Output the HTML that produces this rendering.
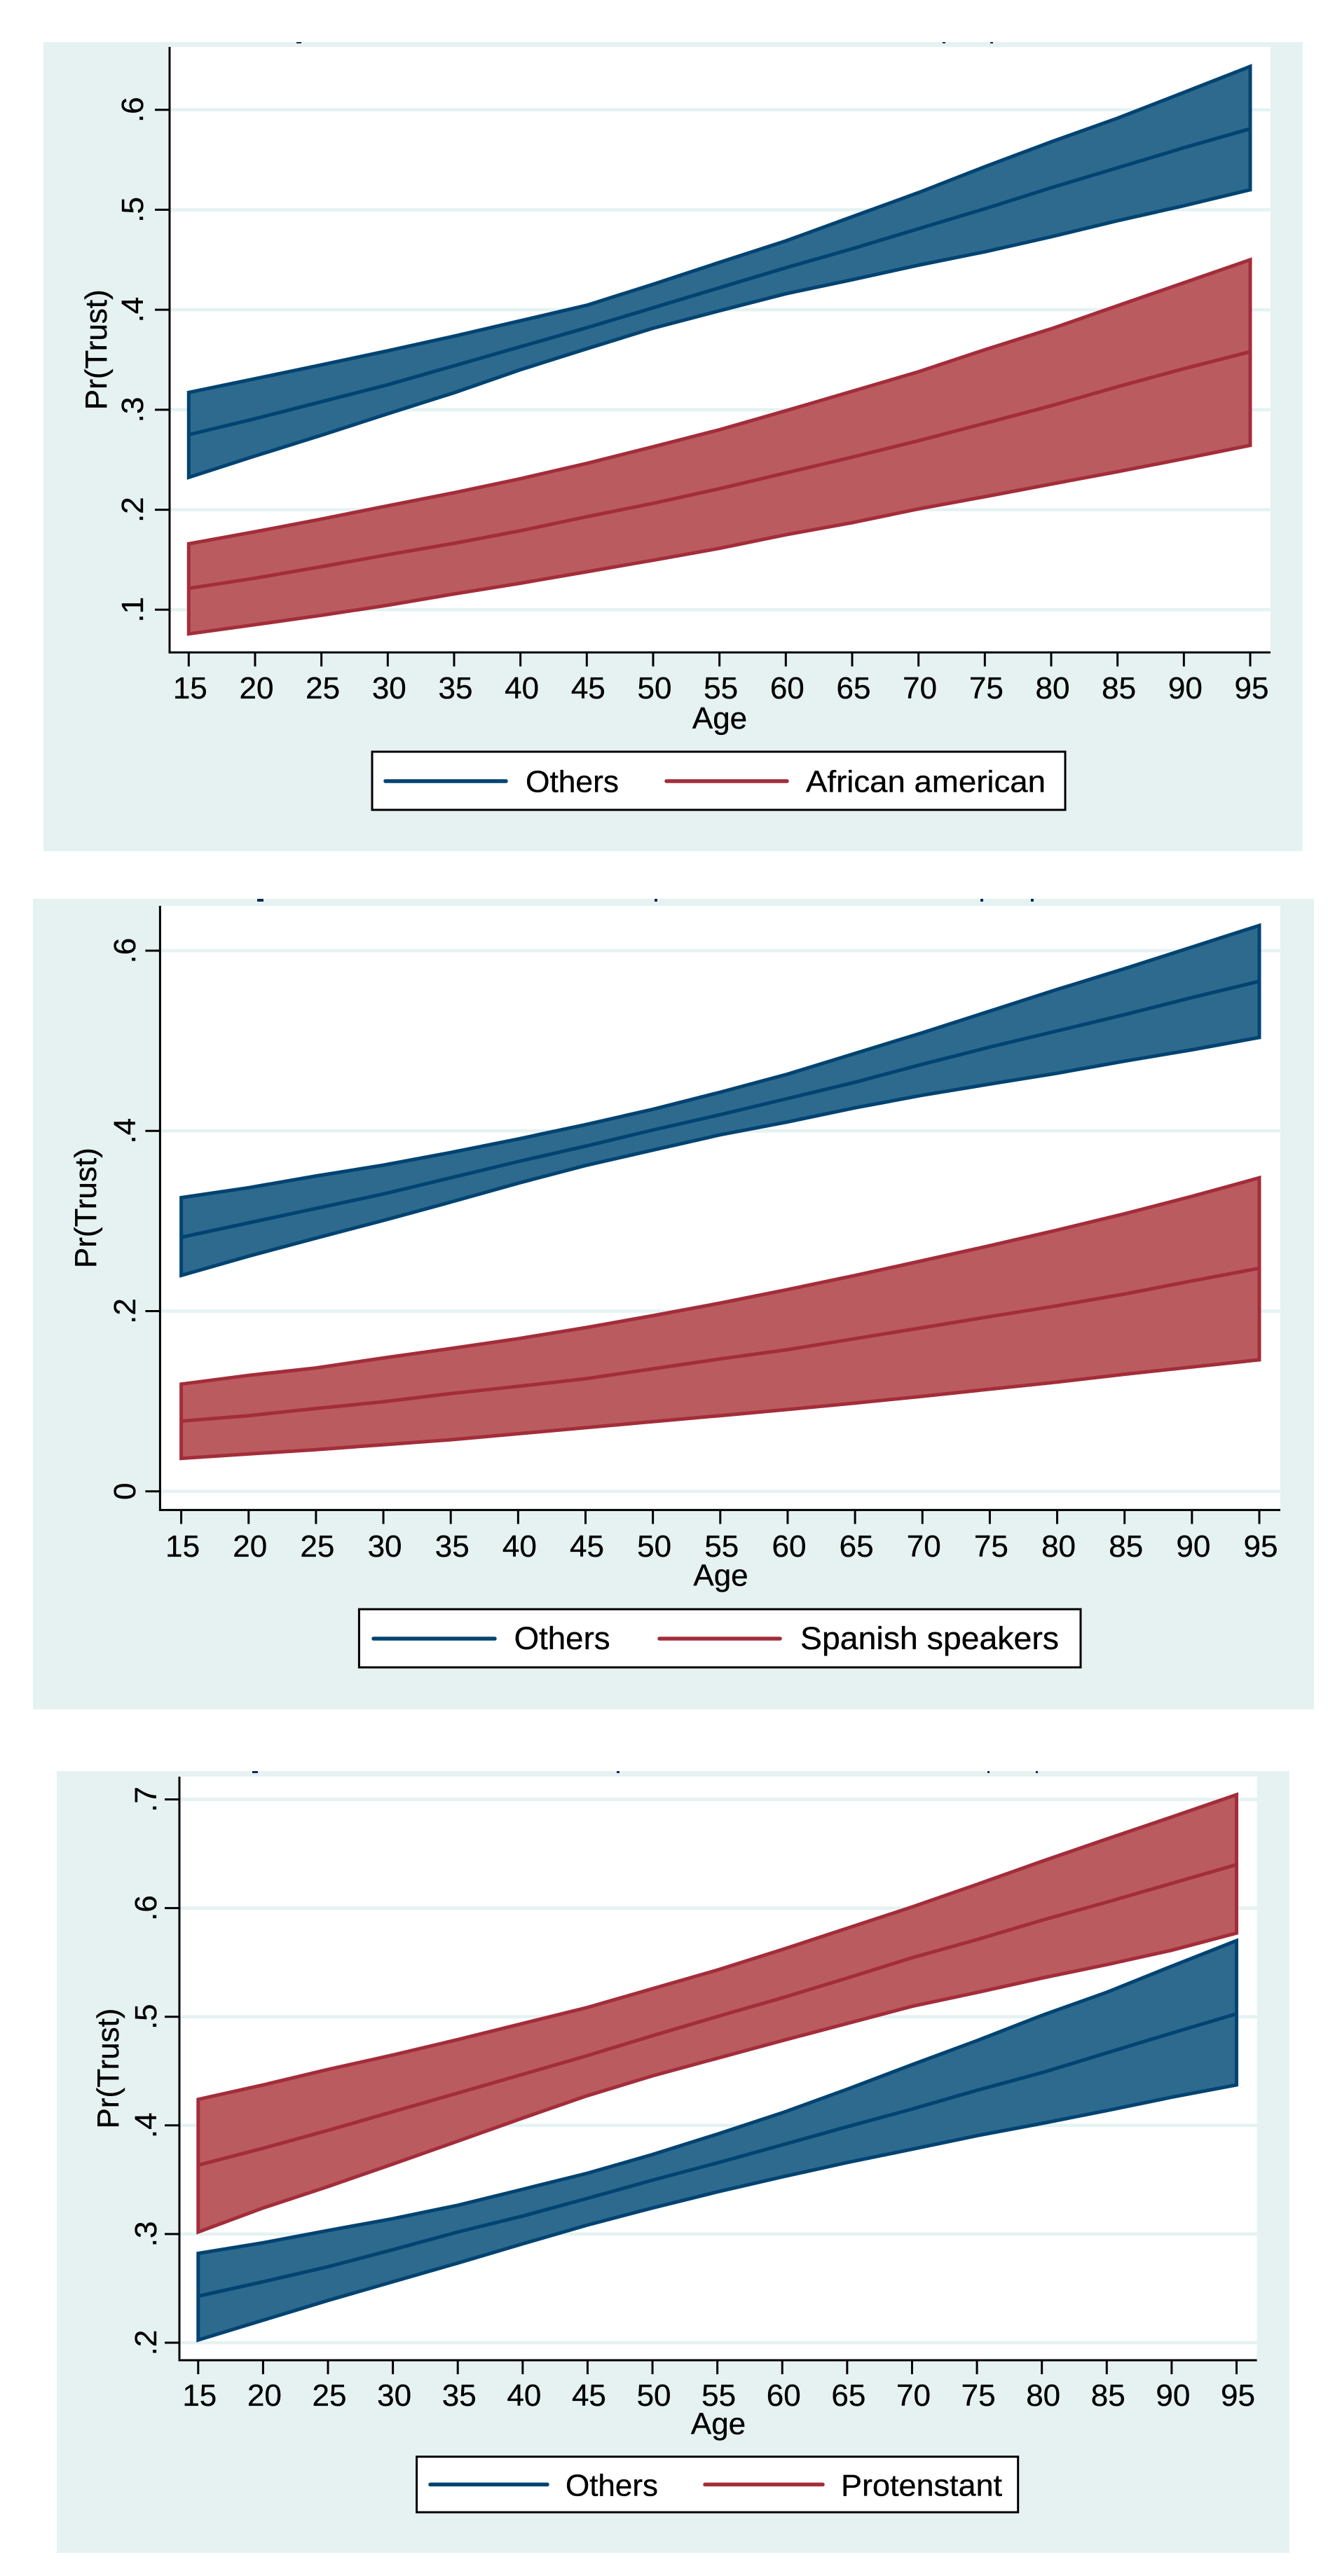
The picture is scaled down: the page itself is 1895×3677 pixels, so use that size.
<!DOCTYPE html>
<html lang="en">
<head>
<meta charset="utf-8">
<title>Pr(Trust) by Age</title>
<style>
html,body{margin:0;padding:0;background:#fff;}
svg{display:block;}
text{font-family:"Liberation Sans",Arial,sans-serif;fill:#000;stroke:#000;stroke-width:0.35px;}
</style>
</head>
<body>
<svg id="figure" xmlns="http://www.w3.org/2000/svg" width="1895" height="3677" viewBox="0 0 1895 3677"></svg>
<script>
// ---------- shared categories ----------
const ages = [15,20,25,30,35,40,45,50,55,60,65,70,75,80,85,90,95];

// ---------- panel 1 values ----------
const p1YTicks = [0.1,0.2,0.3,0.4,0.5,0.6];
const p1BaseUpper = [.3173,.331,.3449,.3590,.3736,.389,.4045,.4255,.4474,.4688,.4930,.5172,.5431,.5679,.5916,.6174,.6434];
const p1BaseMean  = [.275,.291,.308,.325,.344,.363,.382,.402,.422,.442,.461,.481,.501,.522,.542,.562,.581];
const p1BaseLower = [.2323,.2537,.2745,.296,.317,.340,.361,.3815,.399,.416,.430,.4446,.458,.473,.489,.504,.520];
const p1GroupUpper = [.1659,.178,.1907,.204,.217,.231,.2464,.263,.280,.299,.3185,.338,.360,.381,.404,.427,.450];
const p1GroupMean  = [.1214,.1315,.143,.155,.1664,.179,.193,.2064,.221,.2368,.2526,.269,.2864,.304,.323,.341,.358];
const p1GroupLower = [.0758,.085,.0944,.1045,.1158,.1265,.138,.1495,.1614,.175,.187,.2008,.213,.2256,.238,.251,.2644];

// ---------- panel 2 values ----------
const p2YTicks = [0,0.2,0.4,0.6];
const p2BaseUpper = [.326,.337,.350,.362,.376,.391,.407,.424,.443,.463,.486,.509,.533,.557,.580,.604,.628];
const p2BaseMean  = [.282,.298,.314,.330,.348,.366,.383,.401,.418,.436,.454,.474,.493,.511,.529,.548,.566];
const p2BaseLower = [.2396,.261,.281,.3006,.321,.342,.3616,.3787,.3957,.410,.4256,.4396,.452,.464,.4774,.490,.5037];
const p2GroupUpper = [.119,.1287,.137,.148,.1585,.1695,.1817,.195,.209,.224,.2396,.256,.2726,.290,.308,.3274,.348];
const p2GroupMean  = [.078,.084,.092,.0994,.1085,.1165,.125,.136,.147,.1573,.1695,.1817,.194,.206,.219,.2335,.2476];
const p2GroupLower = [.0366,.0415,.0463,.0518,.0573,.064,.0707,.0774,.084,.0909,.098,.1055,.1134,.1213,.130,.138,.146];

// ---------- panel 3 values ----------
const p3YTicks = [0.2,0.3,0.4,0.5,0.6,0.7];
const p3BaseUpper = [.2822,.292,.3033,.3142,.3265,.3412,.356,.3732,.392,.4116,.4333,.4559,.478,.5012,.5225,.5465,.57];
const p3BaseMean  = [.2428,.2561,.2699,.2856,.3019,.3166,.3329,.3496,.3655,.3821,.3988,.415,.4323,.4485,.4667,.4849,.5027];
const p3BaseLower = [.2025,.2207,.2389,.2561,.2733,.291,.3083,.324,.3388,.3526,.3658,.3781,.3905,.4018,.4136,.4259,.4372];
const p3GroupUpper = [.4239,.4372,.4515,.4648,.479,.4938,.5086,.5258,.543,.5618,.5814,.601,.6218,.643,.6636,.6838,.7044];
const p3GroupMean  = [.3634,.379,.3954,.4126,.4298,.447,.4643,.4825,.5002,.5174,.5356,.5543,.571,.5888,.6055,.6227,.64];
const p3GroupLower = [.3019,.324,.3437,.3644,.3855,.4067,.4274,.4456,.4618,.478,.4938,.5096,.5223,.5356,.548,.5612,.577];

// ---------- legend labels ----------
const baseLabel = "Others";
const p1GroupLabel = "African american";
const p2GroupLabel = "Spanish speakers";
const p3GroupLabel = "Protenstant";

// ---------- styling ----------
const PANEL_BG = "#e6f2f2";
const NAVY_LINE = "#004371";
const NAVY_FILL = "#2d6a8e";
const RED_LINE = "#a32d3a";
const RED_FILL = "#ba5b60";
const SPECK = "#0f2a55";
const NS = "http://www.w3.org/2000/svg";
const root = document.getElementById("figure");

function make(parent, tag, attrs, txt){
  const el = document.createElementNS(NS, tag);
  for (const k in attrs) el.setAttribute(k, attrs[k]);
  if (txt !== undefined) el.textContent = txt;
  parent.appendChild(el);
  return el;
}
function linear(d0, r0, d1, r1){
  return v => r0 + (v - d0) * (r1 - r0) / (d1 - d0);
}
function fmtTick(v){
  return v === 0 ? "0" : String(v).replace(/^0/, "");
}
function pointList(xs, ys, sx, sy){
  return xs.map((x, i) => sx(x).toFixed(1) + "," + sy(ys[i]).toFixed(1));
}

function drawBand(g, prefix, upper, mean, lower, sx, sy, fill, line){
  const outline = pointList(ages, upper, sx, sy).concat(pointList(ages, lower, sx, sy).reverse());
  const band = make(g, "polygon", {points: outline.join(" "), fill: fill, stroke: line, "stroke-width": 5, "stroke-linejoin": "miter"});
  
  
  const ml = make(g, "polyline", {points: pointList(ages, mean, sx, sy).join(" "), fill: "none", stroke: line, "stroke-width": 5});
  
  
}

function drawPanel(id, L, yTicks, yPair, series, groupLabel, drawGroupFirst){
  const g = make(root, "g", {});
  
  

  const bg = make(g, "rect", {x: L.bg[0], y: L.bg[1], width: L.bg[2]-L.bg[0], height: L.bg[3]-L.bg[1], fill: PANEL_BG});
  
  

  L.specks.forEach(s => {
    const sp = make(g, "rect", {x: s[0], y: L.bg[1], width: s[1], height: L.speckH, fill: SPECK});
    
    
  });

  const plot = make(g, "rect", {x: L.left, y: L.top, width: L.right-L.left, height: L.bottom-L.top, fill: "#fff"});
  
  

  const sx = linear(15, L.x15, 95, L.x95);
  const sy = linear(yPair[0], L.yp0, yPair[1], L.yp1);

  yTicks.forEach(v => {
    const y = sy(v);
    const grid = make(g, "line", {x1: L.left, x2: L.right, y1: y, y2: y, stroke: PANEL_BG, "stroke-width": 4.7});
    
    
    const tick = make(g, "line", {x1: L.left-21, x2: L.left, y1: y, y2: y, stroke: "#000", "stroke-width": 3});
    
    
    const lab = make(g, "text", {x: 0, y: 0, "font-size": L.font, "text-anchor": "middle", transform: "translate(" + L.yLabelX + "," + y.toFixed(1) + ") rotate(-90)"}, fmtTick(v));
    
    
  });

  if (drawGroupFirst) {
    drawBand(g, id + '-group', series.gu, series.gm, series.gl, sx, sy, RED_FILL, RED_LINE);
    drawBand(g, id + '-others', series.bu, series.bm, series.bl, sx, sy, NAVY_FILL, NAVY_LINE);
  } else {
    drawBand(g, id + '-others', series.bu, series.bm, series.bl, sx, sy, NAVY_FILL, NAVY_LINE);
    drawBand(g, id + '-group', series.gu, series.gm, series.gl, sx, sy, RED_FILL, RED_LINE);
  }

  const yAxis = make(g, "line", {x1: L.left, x2: L.left, y1: L.top, y2: L.bottom+1.5, stroke: "#000", "stroke-width": 3});
  
  
  const xAxis = make(g, "line", {x1: L.left, x2: L.right, y1: L.bottom, y2: L.bottom, stroke: "#000", "stroke-width": 3});
  
  

  ages.forEach(a => {
    const x = sx(a);
    const tick = make(g, "line", {x1: x, x2: x, y1: L.bottom, y2: L.bottom+20, stroke: "#000", "stroke-width": 3});
    
    
    const lab = make(g, "text", {x: x+2, y: L.xLabelY, "font-size": L.font, "text-anchor": "middle"}, String(a));
    
    
  });

  const xTitle = make(g, "text", {x: L.ageX, y: L.ageY, "font-size": L.font, "text-anchor": "middle"}, "Age");
  
  

  const yTitle = make(g, "text", {x: 0, y: 0, "font-size": L.font, "text-anchor": "middle", transform: "translate(" + L.yTitleX + "," + ((L.top+L.bottom)/2) + ") rotate(-90)"}, "Pr(Trust)");
  
  

  const lg = make(g, "g", {});
  
  
  const box = make(lg, "rect", {x: L.lg.box[0], y: L.lg.box[1], width: L.lg.box[2]-L.lg.box[0], height: L.lg.box[3]-L.lg.box[1], fill: "#fff", stroke: "#000", "stroke-width": 3});
  
  
  const k1 = make(lg, "line", {x1: L.lg.k1[0], x2: L.lg.k1[1], y1: L.lg.keyY, y2: L.lg.keyY, stroke: NAVY_LINE, "stroke-width": 5.5, "stroke-linecap": "round"});
  
  
  const t1 = make(lg, "text", {x: L.lg.t1[0], y: L.lg.textY, "font-size": L.lgFont, textLength: L.lg.t1[1], lengthAdjust: "spacingAndGlyphs"}, baseLabel);
  
  
  const k2 = make(lg, "line", {x1: L.lg.k2[0], x2: L.lg.k2[1], y1: L.lg.keyY, y2: L.lg.keyY, stroke: RED_LINE, "stroke-width": 5.5, "stroke-linecap": "round"});
  
  
  const t2 = make(lg, "text", {x: L.lg.t2[0], y: L.lg.textY, "font-size": L.lgFont, textLength: L.lg.t2[1], lengthAdjust: "spacingAndGlyphs"}, groupLabel);
  
  
}

drawPanel("panel-african-american", {
  bg:[62,60,1859,1215], left:242, right:1813, top:67, bottom:931.3,
  x15:269.3, x95:1784, yp0:870.3, yp1:156.7,
  font:44, lgFont:44, yLabelX:204, yTitleX:152, xLabelY:997, ageX:1027, ageY:1040,
  specks:[[423,7],[1345,4],[1413,4]], speckH:2,
  lg:{box:[531,1073,1520,1156], keyY:1115, k1:[550,722], k2:[951,1123], textY:1130.5, t1:[750,133], t2:[1150,342]}
}, p1YTicks, [0.1,0.6], {bu:p1BaseUpper,bm:p1BaseMean,bl:p1BaseLower,gu:p1GroupUpper,gm:p1GroupMean,gl:p1GroupLower}, p1GroupLabel, false);

drawPanel("panel-spanish-speakers", {
  bg:[47,1283,1875,2440], left:228.4, right:1827, top:1293, bottom:2155.4,
  x15:258.6, x95:1797, yp0:2128.8, yp1:1357,
  font:44, lgFont:45, yLabelX:193, yTitleX:137, xLabelY:2222, ageX:1028.5, ageY:2263.7,
  specks:[[367,9],[934,4],[1399,4],[1471,4]], speckH:4,
  lg:{box:[512.4,2297,1542,2380], keyY:2339, k1:[533,706], k2:[941,1113], textY:2354, t1:[733.6,137], t2:[1142,369]}
}, p2YTicks, [0,0.6], {bu:p2BaseUpper,bm:p2BaseMean,bl:p2BaseLower,gu:p2GroupUpper,gm:p2GroupMean,gl:p2GroupLower}, p2GroupLabel, false);

drawPanel("panel-protestant", {
  bg:[81,2528,1840,3644], left:256, right:1793.6, top:2536, bottom:3369,
  x15:282.8, x95:1764.5, yp0:3344, yp1:2568.5,
  font:44, lgFont:44, yLabelX:223, yTitleX:169, xLabelY:3434, ageX:1025, ageY:3474.7,
  specks:[[360,8],[880,4],[1409,3],[1478,3]], speckH:3,
  lg:{box:[594.6,3506.7,1452.7,3586], keyY:3546.4, k1:[614,781], k2:[1006,1174], textY:3562.5, t1:[807,132], t2:[1200,230]}
}, p3YTicks, [0.2,0.7], {bu:p3BaseUpper,bm:p3BaseMean,bl:p3BaseLower,gu:p3GroupUpper,gm:p3GroupMean,gl:p3GroupLower}, p3GroupLabel, true);
</script>
</body>
</html>
